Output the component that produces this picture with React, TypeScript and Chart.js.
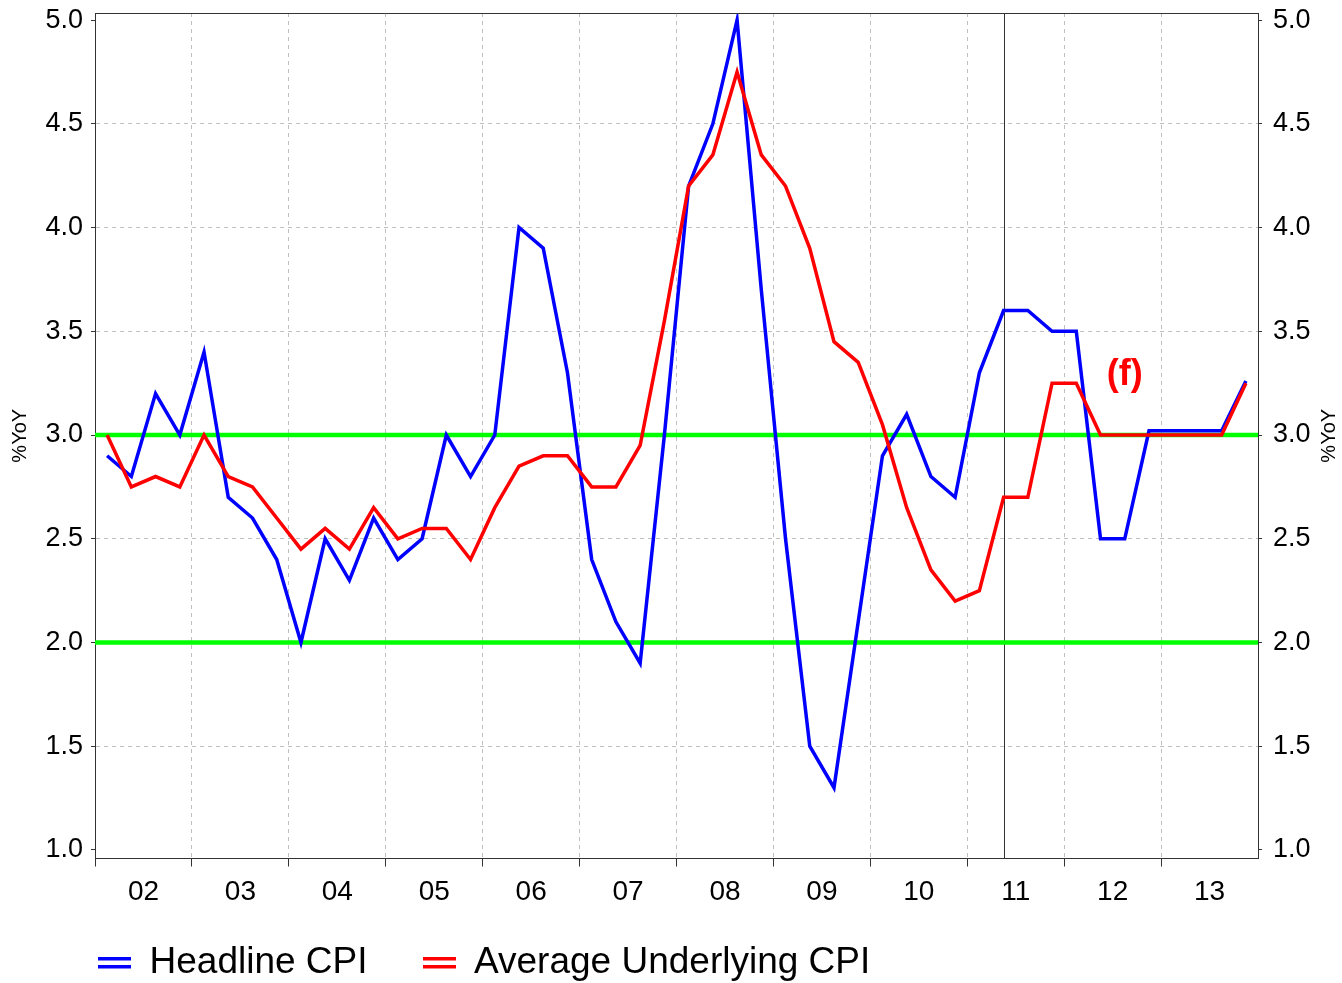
import React, { useEffect, useRef } from 'react';
import { Chart, registerables } from 'chart.js';

Chart.register(...registerables);

// ---------- data ----------
const YEAR_LABELS = ['02', '03', '04', '05', '06', '07', '08', '09', '10', '11', '12', '13'];
const QUARTERS = YEAR_LABELS.flatMap((y) => ['Q1', 'Q2', 'Q3', 'Q4'].map((q) => `${q} ${y}`));

const HEADLINE_CPI = [
  2.9, 2.8, 3.2, 3.0,
  3.4, 2.7, 2.6, 2.4,
  2.0, 2.5, 2.3, 2.6,
  2.4, 2.5, 3.0, 2.8,
  3.0, 4.0, 3.9, 3.3,
  2.4, 2.1, 1.9, 3.0,
  4.2, 4.5, 5.0, 3.7,
  2.5, 1.5, 1.3, 2.1,
  2.9, 3.1, 2.8, 2.7,
  3.3, 3.6, 3.6, 3.5,
  3.5, 2.5, 2.5, 3.02,
  3.02, 3.02, 3.02, 3.26,
];

const UNDERLYING_CPI = [
  3.0, 2.75, 2.8, 2.75,
  3.0, 2.8, 2.75, 2.6,
  2.45, 2.55, 2.45, 2.65,
  2.5, 2.55, 2.55, 2.4,
  2.65, 2.85, 2.9, 2.9,
  2.75, 2.75, 2.95, 3.55,
  4.2, 4.35, 4.75, 4.35,
  4.2, 3.9, 3.45, 3.35,
  3.05, 2.65, 2.35, 2.2,
  2.25, 2.7, 2.7, 3.25,
  3.25, 3.0, 3.0, 3.0,
  3.0, 3.0, 3.0, 3.25,
];

const TARGET_BAND = [2.0, 3.0];
const Y_TICKS = [1.0, 1.5, 2.0, 2.5, 3.0, 3.5, 4.0, 4.5, 5.0];
const Y_MIN = 0.959;
const Y_MAX = 5.034;
const FORECAST_START_INDEX = 37; // Q2 2011
const FORECAST_LABEL = '(f)';
const FORECAST_LABEL_AT = { x: 42, y: 3.29 };
const AXIS_TITLE = '%YoY';
const SERIES_NAMES = ['Headline CPI', 'Average Underlying CPI'];

// ---------- styles ----------
const FONT = "'Liberation Sans', Arial, sans-serif";
const BLUE = '#0000FF';
const RED = '#FF0000';
const GREEN = '#00FF00';
const GRID = '#bfbfbf';
const AXIS = '#333333';

const X_MIN = -0.5;
const X_MAX = QUARTERS.length - 0.5;
const boundaries = YEAR_LABELS.map((_, k) => 4 * k - 0.5).concat([X_MAX]);
const centers = YEAR_LABELS.map((_, k) => 4 * k + 1.5);
const X_TICKS = [...boundaries, ...centers].sort((a, b) => a - b);

const isBoundary = (v: number) => Math.abs(((v + 0.5) % 4)) < 1e-6;

function makeIcon(color: string): HTMLCanvasElement {
  const c = document.createElement('canvas');
  c.width = 33;
  c.height = 12;
  const g = c.getContext('2d')!;
  g.fillStyle = color;
  g.fillRect(0, 0, 33, 3.5);
  g.fillRect(0, 8, 33, 3.5);
  return c;
}

const decorPlugin = {
  id: 'decor',
  afterLayout(chart: any) {
    if (chart.legend) {
      chart.legend.left = 43;
      chart.legend.top = 889.5;
      chart.legend.bottom = 983;
    }
  },
  beforeDatasetsDraw(chart: any) {
    const { ctx, chartArea, scales } = chart;
    const x = Math.round(scales.x.getPixelForValue(FORECAST_START_INDEX)) + 0.5;
    ctx.save();
    ctx.strokeStyle = AXIS;
    ctx.lineWidth = 1;
    ctx.beginPath();
    ctx.moveTo(x, chartArea.top);
    ctx.lineTo(x, chartArea.bottom);
    ctx.stroke();
    ctx.restore();
  },
  afterDraw(chart: any) {
    const { ctx, chartArea, scales } = chart;
    ctx.save();
    // top frame line
    ctx.strokeStyle = AXIS;
    ctx.lineWidth = 1;
    ctx.beginPath();
    ctx.moveTo(chartArea.left, Math.round(chartArea.top) + 0.5);
    ctx.lineTo(chartArea.right, Math.round(chartArea.top) + 0.5);
    ctx.stroke();
    // forecast label
    ctx.fillStyle = RED;
    ctx.font = `bold 36px ${FONT}`;
    ctx.textAlign = 'center';
    ctx.textBaseline = 'middle';
    ctx.fillText(
      FORECAST_LABEL,
      scales.x.getPixelForValue(FORECAST_LABEL_AT.x),
      scales.y.getPixelForValue(FORECAST_LABEL_AT.y)
    );
    // right axis title (reads bottom to top)
    ctx.fillStyle = '#000';
    ctx.font = `20px ${FONT}`;
    ctx.translate(scales.y2.right - 13, (chartArea.top + chartArea.bottom) / 2);
    ctx.rotate(-Math.PI / 2);
    ctx.fillText(AXIS_TITLE, 0, 0);
    ctx.restore();
  },
};

export default function App() {
  const ref = useRef<HTMLCanvasElement | null>(null);

  useEffect(() => {
    if (!ref.current) return;
    const blueIcon = makeIcon(BLUE);
    const redIcon = makeIcon(RED);
    const pts = (arr: number[]) => arr.map((v, i) => ({ x: i, y: v }));
    const flat = (v: number) => [
      { x: X_MIN, y: v },
      { x: X_MAX, y: v },
    ];

    const yTicksFn = (s: any) => {
      s.ticks = Y_TICKS.map((v) => ({ value: v }));
    };

    const chart = new Chart(ref.current, {
      type: 'line',
      data: {
        datasets: [
          {
            label: SERIES_NAMES[1],
            data: pts(UNDERLYING_CPI),
            borderColor: RED,
            backgroundColor: RED,
            borderWidth: 3.5,
            pointRadius: 0,
            tension: 0,
            fill: false,
            order: 1,
            xAxisID: 'x',
            yAxisID: 'y',
          },
          {
            label: SERIES_NAMES[0],
            data: pts(HEADLINE_CPI),
            borderColor: BLUE,
            backgroundColor: BLUE,
            borderWidth: 3.5,
            pointRadius: 0,
            tension: 0,
            fill: false,
            order: 2,
            xAxisID: 'x',
            yAxisID: 'y',
          },
          ...TARGET_BAND.map((v) => ({
            label: `target ${v}`,
            data: flat(v),
            borderColor: GREEN,
            backgroundColor: GREEN,
            borderWidth: 4.5,
            pointRadius: 0,
            fill: false,
            order: 3,
            xAxisID: 'x',
            yAxisID: 'y',
          })),
        ],
      },
      options: {
        responsive: false,
        animation: false,
        devicePixelRatio: 1,
        layout: { padding: { top: 13, left: 0, right: 0, bottom: 0 } },
        events: [],
        plugins: {
          tooltip: { enabled: false },
          legend: {
            position: 'bottom',
            align: 'start',
            maxHeight: 74.5,
            labels: {
              usePointStyle: true,
              boxWidth: 33,
              boxHeight: 37,
              padding: 55,
              color: '#000',
              font: { family: FONT, size: 37 },
              generateLabels: () => [
                {
                  text: SERIES_NAMES[0],
                  pointStyle: blueIcon,
                  fillStyle: BLUE,
                  strokeStyle: BLUE,
                  lineWidth: 0,
                  hidden: false,
                  datasetIndex: 1,
                  fontColor: '#000',
                } as any,
                {
                  text: SERIES_NAMES[1],
                  pointStyle: redIcon,
                  fillStyle: RED,
                  strokeStyle: RED,
                  lineWidth: 0,
                  hidden: false,
                  datasetIndex: 0,
                  fontColor: '#000',
                } as any,
              ],
            },
          },
        },
        scales: {
          x: {
            type: 'linear',
            position: 'bottom',
            min: X_MIN,
            max: X_MAX,
            bounds: 'data',
            afterBuildTicks: (s: any) => {
              s.ticks = X_TICKS.map((v) => ({ value: v }));
            },
            afterFit: (s: any) => {
              s.height = 50;
              s.paddingLeft = 0;
              s.paddingRight = 0;
            },
            ticks: {
              autoSkip: false,
              maxRotation: 0,
              minRotation: 0,
              padding: 9,
              color: '#000',
              font: { family: FONT, size: 28 },
              callback: (v: any) => {
                const n = Number(v);
                if (isBoundary(n)) return '';
                return YEAR_LABELS[Math.round((n - 1.5) / 4)] ?? '';
              },
            },
            grid: {
              lineWidth: 1,
              color: (c: any) => {
                const v = c.tick ? c.tick.value : NaN;
                if (!isBoundary(v) || v === X_MIN || v === X_MAX) return 'transparent';
                return GRID;
              },
              tickLength: 8,
              tickWidth: 1,
              tickColor: (c: any) => {
                const v = c.tick ? c.tick.value : NaN;
                if (!isBoundary(v) || v === X_MAX) return 'transparent';
                return AXIS;
              },
            },
            border: { display: true, color: AXIS, width: 1, dash: [4, 4] },
          },
          y: {
            type: 'linear',
            position: 'left',
            min: Y_MIN,
            max: Y_MAX,
            bounds: 'data',
            afterBuildTicks: yTicksFn,
            afterFit: (s: any) => {
              s.width = 95;
              s.paddingTop = 0;
              s.paddingBottom = 0;
            },
            ticks: {
              padding: 8,
              color: '#000',
              font: { family: FONT, size: 27 },
              callback: (v: any) => Number(v).toFixed(1),
            },
            grid: {
              lineWidth: 1,
              color: (c: any) => {
                const v = c.tick ? c.tick.value : NaN;
                return v === Y_TICKS[0] || v === Y_TICKS[Y_TICKS.length - 1] ? 'transparent' : GRID;
              },
              tickLength: 4,
              tickWidth: 1,
              tickColor: AXIS,
            },
            border: { display: true, color: AXIS, width: 1, dash: [4, 4] },
            title: {
              display: true,
              text: AXIS_TITLE,
              color: '#000',
              font: { family: FONT, size: 20 },
              padding: { top: 8.5, bottom: 0 },
            },
          },
          y2: {
            type: 'linear',
            position: 'right',
            min: Y_MIN,
            max: Y_MAX,
            bounds: 'data',
            afterBuildTicks: yTicksFn,
            afterFit: (s: any) => {
              s.width = 84;
              s.paddingTop = 0;
              s.paddingBottom = 0;
            },
            ticks: {
              padding: 11,
              color: '#000',
              font: { family: FONT, size: 27 },
              callback: (v: any) => Number(v).toFixed(1),
            },
            grid: {
              drawOnChartArea: false,
              tickLength: 4,
              tickWidth: 1,
              tickColor: AXIS,
            },
            border: { display: true, color: AXIS, width: 1 },
          },
        },
      } as any,
      plugins: [decorPlugin],
    });

    return () => chart.destroy();
  }, []);

  return (
    <div style={{ position: 'absolute', left: 0, top: 0, width: 1342, height: 983, background: '#fff' }}>
      <canvas ref={ref} width={1342} height={983} style={{ width: 1342, height: 983, display: 'block' }} />
    </div>
  );
}
